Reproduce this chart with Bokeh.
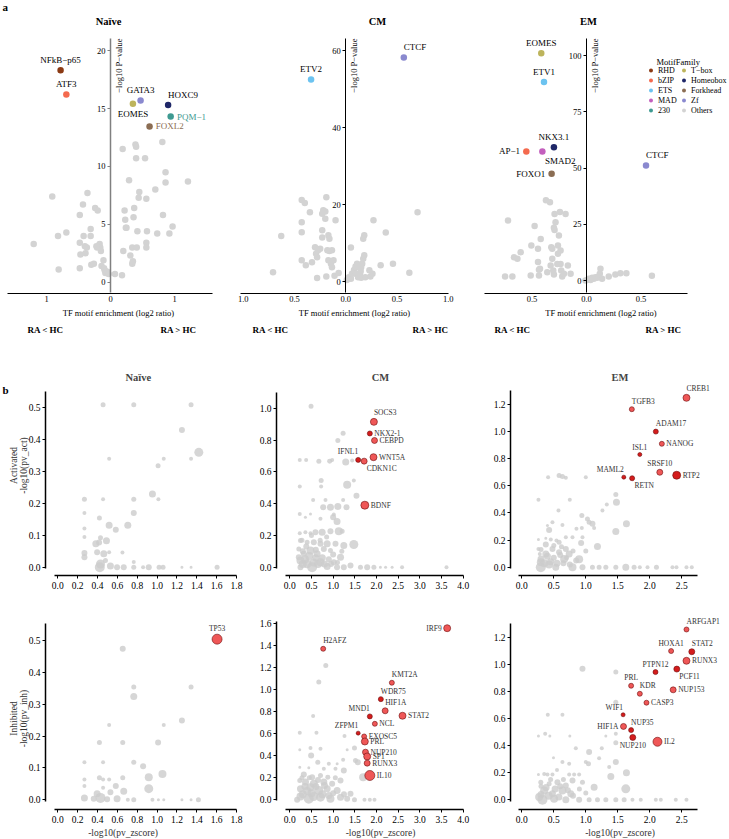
from math import pi
from bokeh.plotting import figure
from bokeh.models import (Range1d, FixedTicker, LinearAxis, Label, Legend, LegendItem,
                          CustomJSTickFormatter, PrintfTickFormatter, AllLabels)
from bokeh.layouts import row, column
from bokeh.embed import file_html
from bokeh.resources import INLINE
from bokeh.core.properties import value

FONT = "Liberation Serif"
NAN = float("nan")

# ======================= Panel a data =======================
FAMILIES = ["RHD", "bZIP", "ETS", "MAD", "230", "T−box", "Homeobox", "Forkhead", "Zf", "Others"]
FAMILY_COLORS = ["#8b3a14", "#f46a4e", "#6cc3f0", "#c35fbd", "#3e9a91",
                 "#bdb45c", "#1f2768", "#8b6d53", "#8a89cf", "#d3d3d3"]

naive_tf = ["NFkB−p65", "ATF3", "GATA3", "EOMES", "HOXC9", "PQM−1", "FOXL2"]
naive_family = ["RHD", "bZIP", "Zf", "T−box", "Homeobox", "230", "Forkhead"]
naive_ratio = [-0.78, -0.69, 0.47, 0.35, 0.90, 0.94, 0.61]
naive_logp = [18.3, 16.2, 15.7, 15.4, 15.3, 14.3, 13.45]
naive_other_ratio = [-1.20, -0.91, -0.82, -0.81, -0.69, -0.48, -0.47, -0.48, -0.48, -0.43,
                     -0.36, -0.42, -0.40, -0.39, -0.37, -0.31, -0.31, -0.30, -0.24, -0.26,
                     -0.21, -0.20, -0.17, -0.15, -0.14, -0.11, -0.09, -0.08, -0.10, -0.05,
                     -0.03, 0.07, 0.18, 0.19, 0.20, 0.22, 0.23, 0.24, 0.25, 0.29,
                     0.34, 0.34, 0.35, 0.36, 0.37, 0.39, 0.40, 0.40, 0.41, 0.42,
                     0.44, 0.45, 0.54, 0.56, 0.57, 0.56, 0.56, 0.70, 0.73, 0.81,
                     0.82, 0.86, 0.86, 0.92, 0.97, 1.21, -0.16, -0.22, 0.31]
naive_other_logp = [3.3, 7.4, 4.0, 1.1, 4.3, 3.4, 2.4, 1.2, 5.8, 6.7,
                    7.7, 4.0, 3.1, 2.5, 3.0, 4.6, 4.0, 1.5, 6.4, 1.6,
                    3.0, 6.2, 3.3, 2.7, 1.4, 1.9, 1.0, 0.8, 1.2, 0.9,
                    0.7, 0.7, 0.6, 11.5, 2.7, 6.2, 5.4, 4.7, 4.7, 8.8,
                    3.0, 1.6, 1.8, 5.6, 6.4, 11.9, 11.7, 10.7, 3.0, 4.4,
                    7.3, 7.8, 10.7, 7.2, 4.4, 3.4, 3.0, 8.0, 4.2, 12.1,
                    5.8, 9.5, 8.6, 4.2, 4.8, 8.7, 3.0, 3.1, 2.3]

cm_tf = ["CTCF", "ETV2"]
cm_family = ["Zf", "ETS"]
cm_ratio = [0.566, -0.339]
cm_logp = [58.2, 52.5]
cm_other_ratio = [-0.71, -0.63, -0.43, -0.40, -0.43, -0.43, -0.43, -0.35, -0.39, -0.33,
                  -0.30, -0.29, -0.28, -0.27, -0.25, -0.23, -0.22, -0.23, -0.23, -0.20,
                  -0.19, -0.20, -0.17, -0.16, -0.18, -0.16, -0.135, -0.17, -0.145, -0.12,
                  -0.135, -0.11, -0.10, -0.07, -0.28, -0.19, 0.01, 0.03, 0.05, 0.06,
                  0.05, 0.08, 0.095, 0.11, 0.13, 0.145, 0.095, 0.12, 0.14, 0.15,
                  0.16, 0.17, 0.18, 0.18, 0.17, 0.15, 0.19, 0.23, 0.24, 0.26,
                  0.27, 0.34, 0.39, 0.46, 0.62, 0.70]
cm_other_logp = [2.4, 11.8, 21.2, 20.4, 15.4, 12.8, 5.5, 18.0, 4.2, 5.0,
                 8.9, 7.2, 6.3, 8.1, 8.5, 17.6, 18.5, 13.3, 11.4, 18.2,
                 21.9, 16.3, 12.0, 11.1, 8.1, 7.9, 8.1, 5.5, 4.6, 5.5,
                 3.7, 1.5, 15.9, 2.2, 0.9, 1.3, 0.4, 1.1, 0.7, 2.0,
                 8.8, 3.0, 3.9, 4.6, 3.7, 2.7, 2.0, 1.1, 2.2, 3.7,
                 4.6, 5.9, 6.8, 12.0, 11.1, 1.0, 1.1, 2.9, 1.3, 2.0,
                 15.9, 4.2, 12.7, 4.6, 2.3, 18.0]

em_tf = ["EOMES", "ETV1", "NKX3.1", "AP−1", "SMAD2", "FOXO1", "CTCF"]
em_family = ["T−box", "ETS", "Homeobox", "bZIP", "MAD", "Forkhead", "Zf"]
em_ratio = [-0.415, -0.39, -0.299, -0.552, -0.405, -0.32, 0.546]
em_logp = [101.0, 88.2, 59.3, 57.4, 57.4, 47.5, 51.2]
em_other_ratio = [-0.72, -0.747, -0.68, -0.665, -0.634, -0.604, -0.506, -0.476, -0.445, -0.445,
                  -0.436, -0.436, -0.427, -0.42, -0.372, -0.335, -0.329, -0.323, -0.314, -0.305,
                  -0.299, -0.293, -0.293, -0.284, -0.299, -0.262, -0.262, -0.253, -0.244, -0.238,
                  -0.238, -0.232, -0.223, -0.207, -0.192, -0.171, -0.146, -0.314, -0.268, -0.36,
                  -0.512, -0.01, 0.006, 0.021, 0.037, 0.052, 0.067, 0.082, 0.098, 0.113,
                  0.128, 0.122, 0.143, 0.204, 0.265, 0.311, 0.366, 0.60]
em_other_logp = [26.8, 1.9, 1.9, 10.5, 9.8, 12.7, 15.7, 24.3, 14.2, 8.3,
                 4.9, 2.4, 5.3, 18.6, 35.7, 34.9, 6.8, 14.9, 14.2, 4.6,
                 2.8, 29.7, 22.6, 26.0, 23.5, 15.7, 12.0, 20.1, 30.5, 13.5,
                 7.5, 4.6, 1.9, 3.1, 29.7, 6.8, 3.1, 9.8, 7.5, 3.8,
                 2.4, 0.1, 0.4, 0.9, 0.4, 1.3, 0.9, 1.6, 1.3, 1.9,
                 5.3, 3.1, 0.9, 1.9, 2.8, 3.4, 3.4, 2.2]

# label placement (style) for panel a annotations
naive_place = ["a", "a", "a", "b", "ar", "r", "r"]
cm_place = ["ar", "a"]
em_place = ["a", "a", "a", "l", "br", "l", "ar"]
TINTED_LABELS = {"PQM−1", "FOXL2"}

# ======================= Panel b data =======================
# --- Activated, Naive ---
act_naive_z = [0.456, 0.765, 1.342, 1.25, 1.42, 0.517, 1.067, 1.342, 1.01, 0.953,
               1.013, 0.268, 0.456, 0.765, 0.765, 0.268, 0.419, 0.517, 0.705, 0.584,
               0.268, 0.268, 0.43, 0.49, 0.383, 0.416, 0.268, 0.268, 0.396, 0.463,
               0.517, 0.651, 0.43, 0.423, 0.53, 0.597, 0.664, 0.765, 0.765, 0.859,
               0.916, 1.02, 1.06, 1.25, 1.342, 1.604, 0.48]
act_naive_p = [0.508, 0.508, 0.508, 0.429, 0.359, 0.339, 0.339, 0.339, 0.317, 0.229,
               0.2125, 0.2125, 0.2125, 0.2125, 0.169, 0.169, 0.154, 0.131, 0.131, 0.117,
               0.121, 0.094, 0.092, 0.083, 0.073, 0.077, 0.044, 0.031, 0.047, 0.042,
               0.047, 0.046, 0.010, 0.0, 0.004, 0.0, 0.0, 0.016, 0.0, 0.0,
               0.0, 0.0, 0.0, 0.0, 0.0, 0.0, 0.021]
act_naive_n = [3, 3, 3, 4, 7, 2, 2, 2, 3, 5,
               2, 3, 2, 3, 4, 2, 3, 5, 5, 4,
               2, 2, 3, 5, 5, 4, 4, 4, 4, 5,
               2, 2, 7, 8, 5, 4, 4, 2, 3, 2,
               4, 3, 3, 1, 1, 3, 3]
act_naive_genes, act_naive_gz, act_naive_gp, act_naive_gn, act_naive_strong = [], [], [], [], []
act_naive_place = []

# --- Activated, CM ---
act_cm_z = [0.49, 1.23, 1.108, 0.23, 0.377, 0.67, 0.92, 0.977, 1.29, 1.438,
            0.23, 0.723, 0.723, 1.323, 1.477, 1.538, 0.538, 0.823, 1.23, 0.23,
            0.36, 0.477, 0.708, 1.015, 0.77, 0.938, 1.108, 1.308, 1.0, 1.09,
            0.23, 0.36, 0.477, 0.592, 0.746, 0.938, 1.13, 1.208, 1.477, 1.246,
            0.246, 0.4, 0.554, 0.708, 0.862, 1.054, 0.208, 0.323, 0.477, 0.63,
            0.785, 0.938, 1.17, 0.246, 0.4, 0.515, 0.708, 0.862, 1.015, 1.4,
            1.63, 1.785, 1.94, 2.09, 2.21, 2.36, 2.59, 3.615, 0.208, 1.09,
            1.246, 0.246,
            0.3, 0.35, 0.45, 0.55, 0.6, 0.65, 0.75, 0.8, 0.9, 0.95,
            0.3, 0.38, 0.6, 0.7, 0.85, 1.1, 1.2, 0.28, 0.5, 1.0]
act_cm_p = [1.013, 0.843, 0.797, 0.675, 0.675, 0.667, 0.667, 0.675, 0.662, 0.671,
            0.507, 0.545, 0.507, 0.518, 0.545, 0.449, 0.423, 0.423, 0.423, 0.335,
            0.314, 0.335, 0.304, 0.331, 0.377, 0.377, 0.382, 0.377, 0.314, 0.287,
            0.214, 0.22, 0.214, 0.22, 0.22, 0.226, 0.226, 0.226, 0.143, 0.136,
            0.168, 0.157, 0.157, 0.147, 0.147, 0.147, 0.115, 0.084, 0.105, 0.084,
            0.115, 0.105, 0.063, 0.042, 0.021, 0.0, 0.031, 0.004, 0.031, 0.01,
            0.0, 0.0, 0.0, 0.0, 0.0, 0.0, 0.0, 0.0, 0.063, 0.0,
            0.0, 0.0,
            0.02, 0.05, 0.07, 0.03, 0.06, 0.02, 0.06, 0.02, 0.05, 0.02,
            0.1, 0.13, 0.11, 0.17, 0.19, 0.03, 0.1, 0.17, 0.2, 0.08]
act_cm_n = [3, 3, 3, 2, 2, 3, 3, 2, 5, 2,
            2, 3, 2, 6, 2, 4, 2, 2, 2, 2,
            1, 1, 2, 2, 4, 5, 5, 4, 4, 5,
            2, 2, 2, 4, 5, 4, 6, 3, 7, 5,
            3, 3, 4, 4, 5, 4, 3, 4, 6, 5,
            4, 3, 5, 6, 7, 8, 6, 5, 4, 4,
            3, 4, 3, 1, 1, 1, 2, 2, 4, 4,
            4, 4,
            6, 6, 6, 6, 5, 6, 5, 5, 4, 4,
            4, 4, 4, 3, 3, 3, 3, 3, 3, 4]
act_cm_genes = ["SOCS3", "NKX2-1", "CEBPD", "IFNL1", "CDKN1C", "WNT5A", "BDNF"]
act_cm_gz = [1.94, 1.846, 1.954, 1.577, 1.715, 1.931, 1.731]
act_cm_gp = [0.914, 0.841, 0.797, 0.675, 0.667, 0.692, 0.39]
act_cm_gn = [5, 3, 4, 3, 4, 5, 6]
act_cm_strong = [0, 1, 0, 1, 0, 0, 0]
act_cm_place = ["ar", "r", "r", "al", "br", "r", "r"]

# --- Activated, EM ---
act_em_z = [0.411, 0.583, 0.635, 0.688, 1.0, 0.26, 0.75, 0.573, 0.479, 0.635,
            0.401, 0.427, 0.854, 0.938, 0.948, 0.927, 0.938, 1.026, 1.052, 1.104,
            1.13, 1.182, 1.328, 1.26, 1.469, 1.479, 1.635, 1.469, 0.26, 0.26,
            0.375, 0.453, 0.542, 0.688, 0.792, 0.375, 0.479, 0.583, 0.688, 0.74,
            0.661, 0.375, 0.297, 0.297, 0.427, 0.531, 0.792, 0.896, 0.948, 1.104,
            1.208, 1.313, 1.469, 1.625, 1.755, 1.844, 1.964, 2.104, 2.354, 2.417,
            2.573, 2.656, 0.281, 0.583,
            0.3, 0.35, 0.4, 0.45, 0.5, 0.55, 0.6, 0.65, 0.7, 0.75,
            0.3, 0.5, 0.62, 0.8, 0.85, 1.0]
act_em_p = [0.664, 0.676, 0.669, 0.659, 0.664, 0.497, 0.497, 0.418, 0.332, 0.312,
            0.307, 0.275, 0.283, 0.29, 0.221, 0.179, 0.381, 0.356, 0.332, 0.32,
            0.29, 0.152, 0.462, 0.418, 0.536, 0.479, 0.32, 0.263, 0.204, 0.135,
            0.214, 0.204, 0.197, 0.221, 0.221, 0.167, 0.135, 0.111, 0.135, 0.098,
            0.061, 0.098, 0.037, 0.0, 0.02, 0.0, 0.0, 0.059, 0.0, 0.0,
            0.0, 0.0, 0.0, 0.0, 0.0, 0.0, 0.0, 0.0, 0.0, 0.0,
            0.0, 0.0, 0.098, 0.184,
            0.06, 0.03, 0.08, 0.04, 0.07, 0.03, 0.09, 0.03, 0.07, 0.02,
            0.13, 0.16, 0.15, 0.12, 0.05, 0.12]
act_em_n = [2, 3, 3, 2, 2, 2, 2, 2, 2, 2,
            1, 4, 2, 2, 2, 4, 3, 3, 3, 4,
            2, 5, 2, 2, 3, 5, 5, 5, 1, 2,
            1, 2, 2, 2, 2, 4, 4, 4, 4, 5,
            6, 5, 6, 8, 6, 5, 6, 6, 4, 3,
            3, 3, 3, 5, 3, 2, 2, 3, 2, 2,
            2, 2, 2, 3,
            5, 6, 5, 5, 4, 5, 4, 4, 3, 4,
            3, 3, 3, 3, 4, 3]
act_em_genes = ["CREB1", "TGFB3", "ADAM17", "NANOG", "ISL1", "SRSF10", "RTP2", "MAML2", "RETN"]
act_em_gz = [2.573, 1.719, 2.094, 2.188, 1.844, 2.156, 2.42, 1.594, 1.724]
act_em_gp = [1.249, 1.165, 1.0, 0.91, 0.831, 0.70, 0.678, 0.664, 0.656]
act_em_gn = [5, 3, 3, 3, 2, 4, 6, 2, 3]
act_em_strong = [0, 0, 1, 0, 1, 0, 1, 1, 1]
act_em_place = ["ar", "ar", "ar", "r", "a", "a", "r", "al", "br"]

# --- Inhibited, Naive ---
inh_naive_z = [0.654, 0.765, 0.765, 1.342, 1.25, 0.517, 1.067, 0.419, 0.654, 1.01,
               0.268, 0.456, 0.765, 0.859, 1.054, 0.916, 0.916, 0.268, 0.419, 0.456,
               0.517, 0.654, 0.584, 0.268, 0.456, 0.268, 0.396, 0.43, 0.53, 0.664,
               0.597, 0.497, 0.765, 0.705, 0.953, 1.013, 1.067, 1.25, 1.342, 1.416,
               0.362]
inh_naive_p = [0.474, 0.354, 0.324, 0.354, 0.249, 0.235, 0.235, 0.18, 0.18, 0.18,
               0.118, 0.118, 0.118, 0.105, 0.081, 0.071, 0.035, 0.064, 0.069, 0.064,
               0.064, 0.069, 0.043, 0.043, 0.038, 0.006, 0.019, 0.006, 0.024, 0.027,
               0.003, 0.002, 0.0, 0.0, 0.0, 0.0, 0.0, 0.0, 0.0, 0.0,
               0.003]
inh_naive_n = [4, 3, 5, 3, 4, 2, 2, 3, 3, 4,
               2, 2, 3, 4, 6, 6, 7, 2, 3, 2,
               2, 3, 4, 2, 2, 5, 5, 8, 4, 5,
               5, 4, 3, 2, 2, 1, 1, 1, 1, 3,
               4]
inh_naive_genes = ["TP53"]
inh_naive_gz = [1.604]
inh_naive_gp = [0.504]
inh_naive_gn = [8]
inh_naive_strong = [0]
inh_naive_place = ["a"]

# --- Inhibited, CM ---
inh_cm_z = [0.83, 0.669, 0.538, 0.23, 0.615, 1.262, 1.492, 0.23, 0.477, 0.708,
            1.323, 0.492, 0.646, 0.9, 1.092, 1.23, 1.515, 1.569, 0.23, 0.438,
            0.785, 1.054, 1.246, 1.692, 0.323, 0.515, 0.708, 0.877, 0.23, 0.362,
            0.554, 0.785, 0.977, 1.17, 0.246, 0.477, 0.669, 0.862, 1.092, 1.4,
            0.246, 0.438, 0.708, 0.938, 1.17, 1.323, 1.492, 1.723, 1.846, 1.954,
            0.169,
            0.3, 0.35, 0.5, 0.55, 0.6, 0.75, 0.8, 0.9, 1.0, 0.28,
            0.45, 0.65, 0.4, 1.25, 1.05]
inh_cm_p = [1.221, 1.07, 0.761, 0.609, 0.609, 0.579, 0.47, 0.455, 0.47, 0.464,
            0.455, 0.403, 0.342, 0.327, 0.327, 0.364, 0.358, 0.342, 0.297, 0.291,
            0.282, 0.282, 0.267, 0.206, 0.23, 0.206, 0.221, 0.206, 0.176, 0.161,
            0.145, 0.161, 0.145, 0.176, 0.1, 0.115, 0.085, 0.1, 0.085, 0.055,
            0.03, 0.009, 0.024, 0.009, 0.024, 0.009, 0.0, 0.0, 0.0, 0.0,
            0.0,
            0.05, 0.12, 0.06, 0.03, 0.12, 0.05, 0.13, 0.04, 0.06, 0.2,
            0.2, 0.18, 0.08, 0.05, 0.2]
inh_cm_n = [3, 3, 2, 2, 2, 2, 3, 1, 2, 2,
            1, 4, 3, 2, 1, 2, 3, 4, 1, 1,
            2, 2, 4, 6, 4, 4, 3, 3, 3, 5,
            6, 5, 4, 4, 5, 6, 7, 5, 5, 4,
            6, 8, 7, 6, 5, 4, 3, 2, 2, 2,
            4,
            6, 5, 6, 7, 5, 6, 5, 5, 4, 3,
            3, 4, 6, 4, 3]
inh_cm_genes = ["IRF9", "H2AFZ", "KMT2A", "WDR75", "HIF1A", "MND1", "STAT2", "NCL",
                "ZFPM1", "EXOSC5", "PRL", "NUP210", "SP1", "RUNX3", "IL10"]
inh_cm_gz = [3.63, 0.77, 2.354, 2.1, 2.2, 1.846, 2.6, 1.962, 1.577, 1.715, 1.731, 1.746, 1.785, 1.785, 1.846]
inh_cm_gp = [1.56, 1.373, 1.064, 0.915, 0.809, 0.758, 0.764, 0.691, 0.606, 0.576, 0.53, 0.433, 0.394, 0.333, 0.221]
inh_cm_gn = [5, 3, 3, 3, 4, 3, 5, 3, 2, 3, 5, 4, 5, 4, 8]
inh_cm_strong = [0, 0, 0, 1, 0, 1, 0, 0, 1, 0, 0, 0, 0, 0, 0]
inh_cm_place = ["l", "ar", "ar", "ar", "ar", "al", "r", "r", "al", "r", "r", "r", "r", "r", "r"]

# --- Inhibited, EM ---
inh_em_z = [0.948, 1.469, 0.406, 0.635, 1.469, 0.26, 0.365, 0.438, 0.75, 1.313,
            1.469, 1.469, 0.495, 0.635, 0.74, 0.844, 1.052, 1.0, 1.042, 1.208,
            1.25, 1.365, 1.469, 1.391, 1.635, 1.13, 1.625, 0.26, 0.401, 0.479,
            0.74, 0.818, 0.896, 0.297, 0.427, 0.557, 0.688, 0.792, 0.948, 0.349,
            0.479, 0.635, 0.766, 0.271, 0.323, 0.505, 0.688, 0.896, 1.052, 1.182,
            1.313, 1.469, 1.599, 1.729, 1.859, 2.094, 2.172, 2.406, 2.573,
            0.3, 0.38, 0.42, 0.52, 0.58, 0.6, 0.72, 0.8, 0.3, 0.45,
            0.65, 0.9, 1.0, 0.35, 0.55]
inh_em_p = [0.966, 0.942, 0.627, 0.627, 0.72, 0.47, 0.487, 0.47, 0.47, 0.47,
            0.487, 0.42, 0.31, 0.278, 0.266, 0.381, 0.352, 0.278, 0.266, 0.307,
            0.381, 0.241, 0.278, 0.172, 0.199, 0.093, 0.081, 0.187, 0.187, 0.187,
            0.187, 0.187, 0.187, 0.13, 0.118, 0.13, 0.106, 0.143, 0.13, 0.069,
            0.044, 0.069, 0.044, 0.02, 0.0, 0.007, 0.0, 0.0, 0.0, 0.0,
            0.0, 0.0, 0.0, 0.0, 0.0, 0.0, 0.0, 0.0, 0.0,
            0.04, 0.09, 0.03, 0.08, 0.02, 0.1, 0.07, 0.03, 0.1, 0.15,
            0.15, 0.08, 0.05, 0.19, 0.22]
inh_em_n = [4, 3, 2, 2, 3, 1, 2, 1, 1, 1,
            2, 3, 1, 2, 2, 2, 4, 2, 3, 2,
            2, 2, 4, 5, 5, 5, 7, 1, 2, 2,
            2, 2, 2, 3, 3, 4, 4, 4, 3, 6,
            5, 6, 5, 6, 8, 6, 5, 4, 3, 3,
            3, 3, 3, 2, 2, 2, 2, 2, 2,
            5, 5, 6, 5, 5, 4, 4, 4, 3, 3,
            3, 3, 3, 2, 2]
inh_em_genes = ["ARFGAP1", "HOXA1", "STAT2", "RUNX3", "PTPN12", "PCF11", "PRL", "NUP153",
                "KDR", "CASP3", "WIF1", "HIF1A", "NUP35", "NUP210", "IL2"]
inh_em_gz = [2.573, 2.333, 2.656, 2.573, 2.089, 2.422, 1.708, 2.365, 1.844, 1.948, 1.583, 1.589, 1.708, 1.734, 2.12]
inh_em_gp = [1.256, 1.097, 1.092, 1.025, 0.942, 0.964, 0.841, 0.811, 0.782, 0.716, 0.627, 0.541, 0.514, 0.46, 0.428]
inh_em_gn = [3, 3, 4, 5, 3, 4, 3, 4, 3, 3, 2, 4, 3, 4, 7]
inh_em_strong = [0, 0, 1, 0, 1, 1, 0, 0, 0, 0, 1, 0, 1, 1, 0]
inh_em_place = ["ar", "a", "ar", "r", "a", "br", "a", "r", "ar", "r", "al", "l", "ar", "b", "r"]

# tick values
naive_a_xticks = [-1, 0, 1]
cm_a_xticks = [-1, -0.5, 0, 0.5, 1]
em_a_xticks = [-0.5, 0, 0.5]
naive_a_yticks = [0, 5, 10, 15, 20]
cm_a_yticks = [0, 20, 40, 60]
em_a_yticks = [0, 25, 50, 75, 100]
naive_b_xticks = [0.0, 0.2, 0.4, 0.6, 0.8, 1.0, 1.2, 1.4, 1.6, 1.8]
cm_b_xticks = [0.0, 0.5, 1.0, 1.5, 2.0, 2.5, 3.0, 3.5, 4.0]
em_b_xticks = [0.0, 0.5, 1.0, 1.5, 2.0, 2.5]

# ======================= helpers =======================
PLACE = {  # align, baseline, x-offset(r, gap), y-offset(r, gap) ; +y = down
    "r":  ("left", "middle", lambda r, g: r + g, lambda r, g: 0),
    "l":  ("right", "middle", lambda r, g: -(r + g), lambda r, g: 0),
    "a":  ("center", "bottom", lambda r, g: 0, lambda r, g: -(r + g - 1)),
    "b":  ("center", "top", lambda r, g: 0, lambda r, g: r + g - 1),
    "ar": ("left", "bottom", lambda r, g: 0, lambda r, g: -(r + g - 1)),
    "al": ("right", "bottom", lambda r, g: 0, lambda r, g: -(r + g - 1)),
    "br": ("left", "top", lambda r, g: r * 0.5 + 1, lambda r, g: r + g - 2),
}


def add_texts(p, xs, ys, labels, sizes, place, colors, font_size, gap):
    for code in dict.fromkeys(place):
        idx = [i for i, c in enumerate(place) if c == code]
        align, base, fx, fy = PLACE[code]
        p.text(x=[xs[i] for i in idx], y=[ys[i] for i in idx], text=[labels[i] for i in idx],
               x_offset=[fx(sizes[i] / 2, gap) for i in idx],
               y_offset=[fy(sizes[i] / 2, gap) for i in idx],
               text_align=align, text_baseline=base, text_font=value(FONT),
               text_font_size=font_size, text_color=[colors[i] for i in idx])


def clean(p):
    p.outline_line_color = None
    p.xgrid.visible = False
    p.ygrid.visible = False
    p.background_fill_color = "white"
    p.border_fill_color = "white"


def txt(x, y, text, size, bold=False, align="left", baseline="middle", angle=0.0, color="black"):
    return Label(x=x, y=y, text=text, text_font=FONT, text_font_size=size,
                 text_font_style="bold" if bold else "normal", text_align=align,
                 text_baseline=baseline, angle=angle, text_color=color)


FCOL = dict(zip(FAMILIES, FAMILY_COLORS))
PT_A = 6.5
A_FRAME_H = 293     # frame spans from the top of the page to the x-axis line
A_AXIS_TOP = 38     # pixel row where the y-axis line starts
A_TITLE_Y = 21


def panel_a(title, title_px, tf, fam, x, y, place, ox, oy, fw, zx, xppu, bpx, zy, yppu,
            xticks, xdig, yticks, ra_px, ycol, ywid, legend=False, letter=False):
    px2x = lambda px: (px - zx) / xppu
    px2y = lambda py: (zy - py) / yppu
    yr = (px2y(A_FRAME_H), px2y(0))
    xr = (px2x(0), px2x(fw))
    p = figure(frame_width=fw, frame_height=A_FRAME_H, x_range=Range1d(*xr), y_range=Range1d(*yr),
               min_border_left=0, min_border_right=0, min_border_top=0, min_border_bottom=47,
               output_backend="svg", toolbar_location=None)
    clean(p)
    p.title.visible = False

    xa = p.xaxis[0]
    xa.ticker = FixedTicker(ticks=xticks)
    xa.formatter = CustomJSTickFormatter(code="return Math.abs(tick).toFixed(%d);" % xdig)
    xa.major_label_policy = AllLabels()
    xa.major_tick_out = 0
    xa.major_tick_in = 0
    xa.minor_tick_out = 0
    xa.minor_tick_in = 0
    xa.major_tick_line_color = None
    xa.minor_tick_line_color = None
    xa.axis_line_color = "black"
    xa.bounds = (px2x(bpx[0]), px2x(bpx[1]))
    xa.axis_label = "TF motif enrichment (log2 ratio)"
    xa.axis_label_text_font = FONT
    xa.axis_label_text_font_size = "8.5px"
    xa.axis_label_text_font_style = "normal"
    xa.axis_label_text_color = "black"
    xa.major_label_text_font = FONT
    xa.major_label_text_font_size = "8.5px"
    xa.major_label_text_color = "black"
    xa.major_label_standoff = 2
    xa.axis_label_standoff = 3

    ra = LinearAxis(ticker=FixedTicker(ticks=[px2x(v) for v in ra_px]),
                    formatter=CustomJSTickFormatter(code="return tick < 0 ? 'RA < HC' : 'RA > HC';"))
    ra.axis_line_color = None
    ra.major_tick_line_color = None
    ra.minor_tick_line_color = None
    ra.major_tick_out = 0
    ra.minor_tick_out = 0
    ra.major_label_text_font = FONT
    ra.major_label_text_font_size = "9px"
    ra.major_label_text_font_style = "bold"
    ra.major_label_text_color = "black"
    ra.major_label_standoff = 4
    p.add_layout(ra, "below")

    ytop = px2y(A_AXIS_TOP)
    ya = p.yaxis[0]
    ya.fixed_location = 0
    ya.bounds = (px2y(A_FRAME_H - 1), ytop)
    ya.ticker = FixedTicker(ticks=yticks)
    ya.major_tick_out = 3
    ya.major_tick_in = 0
    ya.minor_tick_out = 0
    ya.minor_tick_in = 0
    ya.minor_tick_line_color = None
    ya.axis_line_color = ycol
    ya.axis_line_width = ywid
    ya.major_tick_line_color = ycol
    ya.major_label_text_font = FONT
    ya.major_label_text_font_size = "8.5px"
    ya.major_label_text_color = "black"
    ya.major_label_standoff = 2
    lab = txt(0, ytop, "−log10 P−value", "8.5px", align="right", baseline="top", angle=pi / 2)
    lab.x_offset = 3
    p.add_layout(lab)
    p.add_layout(txt(px2x(title_px), px2y(A_TITLE_Y), title, "10.5px", bold=True, align="center"))

    others = p.scatter(ox, oy, size=PT_A, color=FCOL["Others"], line_color=None)
    rends = {"Others": others}
    for f in FAMILIES[:-1]:
        idx = [i for i, ff in enumerate(fam) if ff == f]
        if idx:
            rends[f] = p.scatter([x[i] for i in idx], [y[i] for i in idx], size=PT_A,
                                 color=FCOL[f], line_color=None)
        elif legend:
            # family absent from this panel: legend-only renderer without a visible mark
            rends[f] = p.scatter([NAN], [NAN], size=PT_A, color=FCOL[f], line_color=None)
    colors = [FCOL[f] if t in TINTED_LABELS else "black" for t, f in zip(tf, fam)]
    add_texts(p, x, y, tf, [PT_A] * len(x), place, colors, "9px", 3)

    if legend:
        for names, lx in ((FAMILIES[:5], 173), (FAMILIES[5:], 206)):
            lg = Legend(items=[LegendItem(label=n, renderers=[rends[n]]) for n in names],
                        location=(lx, 178), orientation="vertical",
                        glyph_width=11, glyph_height=10, label_height=9, label_standoff=2,
                        spacing=0, padding=0, margin=0, border_line_color=None,
                        background_fill_alpha=0, label_text_font=FONT,
                        label_text_font_size="8px", label_text_color="black")
            p.add_layout(lg)
        p.add_layout(txt(px2x(184), px2y(61), "MotifFamily", "8.5px"))
    if letter:
        p.add_layout(txt(px2x(2), px2y(6), "a", "11px", bold=True))
    return p


B_COL = {
    "naive": dict(bl=0, fw=245, br=5, axis_px=45, zero_px=57.3, xppu=99.3,
                  xlim=(-0.03, 1.8), xticks=naive_b_xticks),
    "cm": dict(bl=26, fw=208, br=6, axis_px=0, zero_px=13.3, xppu=43.35,
               xlim=(-0.1, 4.0), xticks=cm_b_xticks),
    "em": dict(bl=18, fw=219, br=2, axis_px=0, zero_px=11.3, xppu=64.0,
               xlim=(-0.05, 2.74), xticks=em_b_xticks),
}
B_ROW = {
    1: dict(fh=192, bt=43, bb=20, gapy=8.3),
    2: dict(fh=197, bt=17, bb=30, gapy=9.7),
}
LIGHT_RED, DARK_RED = "#ef5757", "#d41c1c"


def panel_b(col, rw, title, gz, gp, gn, genes, rz, rp, rn, strong, place, yppu, ylim, yticks,
            ylabel=None, ylabel_px=None, xlabel=None, letter=False, title_px=None):
    c, r = B_COL[col], B_ROW[rw]
    px2x = lambda px: (px - c["zero_px"]) / c["xppu"]
    y0 = -r["gapy"] / yppu
    py2y = lambda py: y0 + (r["fh"] - py) / yppu     # py measured from frame top
    p = figure(frame_width=c["fw"], frame_height=r["fh"],
               x_range=Range1d(px2x(0), px2x(c["fw"])),
               y_range=Range1d(y0, y0 + r["fh"] / yppu),
               min_border_left=c["bl"], min_border_right=c["br"],
               min_border_top=r["bt"], min_border_bottom=r["bb"],
               output_backend="svg", toolbar_location=None)
    clean(p)
    if title:
        p.title.text = title
        p.title.text_font = FONT
        p.title.text_font_size = "10.5px"
        p.title.text_font_style = "bold"
        p.title.standoff = 2
        if title_px is None:
            p.title.align = "center"
        else:
            p.title.align = "left"
            p.title.offset = title_px
    else:
        p.title.visible = False

    for ax, ticks, lim in ((p.xaxis[0], c["xticks"], c["xlim"]), (p.yaxis[0], yticks, ylim)):
        ax.ticker = FixedTicker(ticks=ticks)
        ax.formatter = PrintfTickFormatter(format="%.1f")
        ax.bounds = lim
        ax.axis_line_color = "black"
        ax.axis_line_width = 1.5
        ax.major_tick_line_color = "black"
        ax.major_tick_out = 3
        ax.major_tick_in = 0
        ax.minor_tick_out = 0
        ax.minor_tick_in = 0
        ax.minor_tick_line_color = None
        ax.major_label_text_font = FONT
        ax.major_label_text_font_size = "9.5px"
        ax.major_label_text_color = "black"
        ax.axis_label_text_font = FONT
        ax.axis_label_text_font_size = "9.5px"
        ax.axis_label_text_font_style = "normal"
        ax.axis_label_text_color = "#333333"
    p.xaxis[0].major_label_standoff = 3
    p.yaxis[0].major_label_standoff = 2
    p.xaxis[0].axis_label_standoff = 2
    if c["axis_px"]:
        p.yaxis[0].fixed_location = px2x(c["axis_px"])
    if xlabel:
        p.xaxis[0].axis_label = xlabel
    if ylabel:
        cy = py2y(ylabel_px)
        for line, lx in zip(ylabel, (13, 23)):
            p.add_layout(txt(px2x(lx), cy, line, "9.5px", align="center", angle=pi / 2,
                             color="#333333"))

    p.scatter(gz, gp, size=[2 + n for n in gn], color="#cccccc", alpha=0.8, line_color=None)
    if genes:
        sizes = [2 + n for n in rn]
        p.scatter(rz, rp, size=sizes, fill_color=[DARK_RED if s else LIGHT_RED for s in strong],
                  line_color="#6e0f0f", line_width=0.6)
        add_texts(p, rz, rp, genes, sizes, place, ["#333333"] * len(genes), "7.5px", 2)
    if letter:
        p.add_layout(txt(px2x(2), py2y(6), "b", "11px", bold=True))
    return p


# ======================= build =======================
a1 = panel_a("Naïve", 108, naive_tf, naive_family, naive_ratio, naive_logp, naive_place,
             naive_other_ratio, naive_other_logp, 236, 110, 64.0, (7, 212), 281.7, 11.58,
             naive_a_xticks, 0, naive_a_yticks, (45, 178), "#808080", 1.5, letter=True)
a2 = panel_a("CM", 141, cm_tf, cm_family, cm_ratio, cm_logp, cm_place,
             cm_other_ratio, cm_other_logp, 236, 109.3, 102.5, (4, 212), 281.0, 3.85,
             cm_a_xticks, 1, cm_a_yticks, (34, 194), "black", 1)
a3 = panel_a("EM", 116, em_tf, em_family, em_ratio, em_logp, em_place,
             em_other_ratio, em_other_logp, 257, 114, 109.0, (12, 215), 280.3, 2.253,
             em_a_xticks, 1, em_a_yticks, (40, 191), "black", 1, legend=True)

b11 = panel_b("naive", 1, "Naïve", act_naive_z, act_naive_p, act_naive_n,
              act_naive_genes, act_naive_gz, act_naive_gp, act_naive_gn, act_naive_strong, act_naive_place,
              320.0, (-0.004, 0.549), [0.0, 0.1, 0.2, 0.3, 0.4, 0.5],
              ylabel=("Activated", "-log10(pv_act)"), ylabel_px=82, letter=True, title_px=125)
b12 = panel_b("cm", 1, "CM", act_cm_z, act_cm_p, act_cm_n,
              act_cm_genes, act_cm_gz, act_cm_gp, act_cm_gn, act_cm_strong, act_cm_place,
              159.0, (-0.01, 1.10), [0.0, 0.2, 0.4, 0.6, 0.8, 1.0])
b13 = panel_b("em", 1, "EM", act_em_z, act_em_p, act_em_n,
              act_em_genes, act_em_gz, act_em_gp, act_em_gn, act_em_strong, act_em_place,
              135.6, (-0.01, 1.30), [0.0, 0.2, 0.4, 0.6, 0.8, 1.0, 1.2])
b21 = panel_b("naive", 2, None, inh_naive_z, inh_naive_p, inh_naive_n,
              inh_naive_genes, inh_naive_gz, inh_naive_gp, inh_naive_gn, inh_naive_strong, inh_naive_place,
              318.7, (-0.004, 0.552), [0.0, 0.1, 0.2, 0.3, 0.4, 0.5],
              ylabel=("Inhibited", "-log10(pv_inh)"), ylabel_px=106, xlabel="-log10(pv_zscore)")
b22 = panel_b("cm", 2, None, inh_cm_z, inh_cm_p, inh_cm_n,
              inh_cm_genes, inh_cm_gz, inh_cm_gp, inh_cm_gn, inh_cm_strong, inh_cm_place,
              110.0, (-0.01, 1.62), [0.0, 0.2, 0.4, 0.6, 0.8, 1.0, 1.2, 1.4, 1.6],
              xlabel="-log10(pv_zscore)")
b23 = panel_b("em", 2, None, inh_em_z, inh_em_p, inh_em_n,
              inh_em_genes, inh_em_gz, inh_em_gp, inh_em_gn, inh_em_strong, inh_em_place,
              135.6, (-0.01, 1.30), [0.0, 0.2, 0.4, 0.6, 0.8, 1.0, 1.2],
              xlabel="-log10(pv_zscore)")

layout = column(row(a1, a2, a3), row(b11, b12, b13), row(b21, b22, b23))
open("out.html", "w").write(file_html(layout, INLINE))
